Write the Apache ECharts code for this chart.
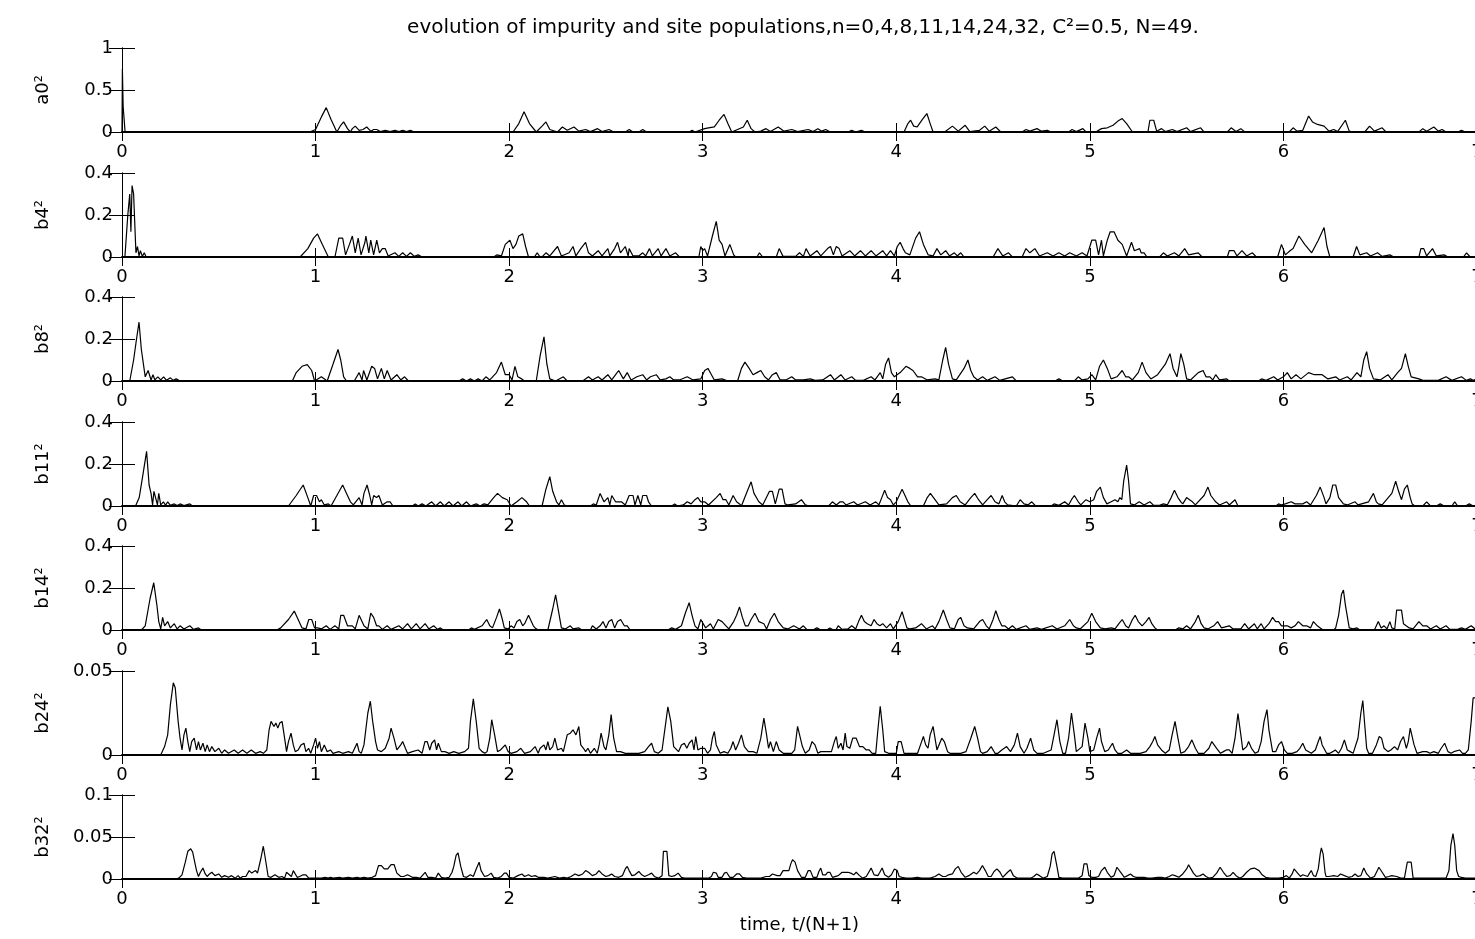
<!DOCTYPE html>
<html>
<head>
<meta charset="utf-8">
<script src="https://cdn.jsdelivr.net/npm/echarts@6/dist/echarts.min.js"></script>
<style>
html, body { margin: 0; padding: 0; background: #fff; }
#chart { width: 1475px; height: 939px; }
</style>
</head>
<body>
<div id="chart"></div>
<script>
// populations, [t/(N+1), value]
var a0 = [[0,0],[0.002,0.75],[0.006,0.3],[0.016,0],
[0.97,0],[1.0,0.03],[1.03,0.18],[1.055,0.29],[1.08,0.15],[1.11,0],
[1.13,0.08],[1.145,0.12],[1.165,0.04],[1.18,0],
[1.19,0.04],[1.205,0.07],[1.225,0.02],[1.245,0.03],[1.264,0.06],[1.285,0.01],[1.3,0.03],[1.316,0.03],[1.335,0.005],[1.36,0.02],[1.385,0.005],[1.41,0.02],[1.43,0.005],[1.45,0.02],[1.47,0.005],[1.49,0.02],[1.51,0],
[2.02,0],[2.05,0.1],[2.077,0.24],[2.105,0.1],[2.14,0],[2.17,0.07],[2.19,0.12],[2.21,0.03],[2.25,0],[2.275,0.06],[2.3,0.02],[2.335,0.06],[2.36,0.01],[2.395,0.03],[2.42,0.005],[2.457,0.04],[2.48,0.005],[2.516,0.03],[2.54,0],[2.6,0],[2.62,0.03],[2.64,0],[2.67,0],[2.69,0.03],[2.71,0],
[2.93,0],[2.945,0.02],[2.96,0],[3.01,0.04],[3.03,0.05],[3.06,0.06],[3.085,0.14],[3.11,0.21],[3.13,0.1],[3.15,0],[3.21,0.06],[3.23,0.14],[3.25,0.04],[3.27,0],[3.3,0.01],[3.327,0.04],[3.35,0.005],[3.39,0.06],[3.42,0.01],[3.46,0.03],[3.49,0.005],
[3.545,0.03],[3.57,0.005],[3.595,0.04],[3.615,0.01],[3.635,0.03],[3.66,0],[3.75,0],[3.77,0.02],[3.79,0],[3.8,0],[3.82,0.02],[3.84,0],
[4.04,0],[4.06,0.1],[4.074,0.14],[4.09,0.07],[4.108,0.06],[4.135,0.15],[4.158,0.22],[4.175,0.1],[4.19,0],
[4.25,0],[4.29,0.07],[4.32,0.01],[4.356,0.08],[4.38,0.005],[4.43,0.02],[4.457,0.07],[4.48,0.01],[4.514,0.06],[4.54,0],[4.65,0],[4.67,0.03],[4.69,0.01],[4.727,0.04],[4.75,0.01],[4.78,0.02],[4.8,0],[4.89,0],[4.908,0.03],[4.93,0.005],[4.964,0.04],[4.98,0],
[5.03,0],[5.06,0.04],[5.09,0.05],[5.12,0.08],[5.145,0.13],[5.167,0.16],[5.19,0.1],[5.22,0],[5.3,0],[5.31,0.14],[5.33,0.14],[5.345,0.01],[5.37,0.04],[5.39,0.005],[5.426,0.03],[5.45,0.005],[5.5,0.05],[5.52,0.005],[5.572,0.05],[5.59,0],[5.71,0],[5.73,0.05],[5.755,0.005],[5.78,0.04],[5.8,0],
[6.03,0],[6.05,0.05],[6.07,0.01],[6.1,0.02],[6.13,0.19],[6.15,0.12],[6.176,0.09],[6.21,0.07],[6.235,0.01],[6.26,0.03],[6.28,0.005],[6.32,0.14],[6.34,0.01],[6.36,0],[6.42,0],[6.445,0.07],[6.47,0.01],[6.51,0.05],[6.53,0],[6.7,0],[6.72,0.04],[6.74,0.01],[6.777,0.06],[6.8,0.01],[6.82,0.03],[6.84,0],[6.9,0],[6.92,0.02],[6.94,0],[7,0]];

var b4 = [[0,0],[0.015,0],[0.03,0.2],[0.04,0.3],[0.046,0.12],[0.052,0.34],[0.06,0.3],[0.072,0.02],[0.08,0.05],[0.088,0.005],[0.095,0.03],[0.105,0.003],[0.115,0.02],[0.125,0],
[0.92,0],[0.96,0.04],[0.99,0.09],[1.01,0.11],[1.035,0.06],[1.066,0],
[1.1,0],[1.12,0.09],[1.14,0.09],[1.155,0.01],[1.175,0.06],[1.19,0.1],[1.205,0.02],[1.22,0.09],[1.235,0.01],[1.255,0.07],[1.26,0.1],[1.275,0.02],[1.285,0.08],[1.3,0.01],[1.316,0.08],[1.33,0.02],[1.345,0.04],[1.36,0.04],[1.375,0.005],[1.41,0.02],[1.43,0.003],[1.45,0.02],[1.47,0.003],[1.49,0.02],[1.51,0.003],[1.53,0.01],[1.55,0],
[1.92,0],[1.936,0.01],[1.96,0.005],[1.98,0.06],[2.004,0.08],[2.02,0.04],[2.035,0.06],[2.05,0.1],[2.07,0.11],[2.085,0.05],[2.1,0],[2.13,0],[2.145,0.02],[2.16,0],[2.175,0.005],[2.19,0.02],[2.21,0.005],[2.25,0.05],[2.27,0.005],[2.31,0.02],[2.33,0.05],[2.345,0.005],[2.37,0.04],[2.395,0.07],[2.41,0.02],[2.43,0.005],[2.46,0.03],[2.48,0.005],[2.51,0.04],[2.52,0.005],[2.545,0.04],[2.56,0.07],[2.575,0.02],[2.6,0.05],[2.615,0.005],[2.62,0.04],[2.64,0.005],[2.67,0.005],[2.69,0.02],[2.705,0.005],[2.725,0.04],[2.74,0.005],[2.77,0.04],[2.785,0.005],[2.81,0.04],[2.83,0.005],[2.86,0.02],[2.88,0],
[2.98,0],[2.99,0.05],[3.0,0.03],[3.01,0.04],[3.025,0.005],[3.05,0.1],[3.07,0.17],[3.085,0.08],[3.1,0.06],[3.115,0.005],[3.14,0.06],[3.16,0.01],[3.17,0],[3.28,0],[3.293,0.02],[3.31,0],[3.38,0],[3.395,0.04],[3.415,0.003],[3.48,0.003],[3.5,0.02],[3.52,0.003],[3.534,0.04],[3.555,0.005],[3.59,0.03],[3.61,0.005],[3.645,0.04],[3.66,0.05],[3.675,0.01],[3.69,0.05],[3.705,0.04],[3.72,0.005],[3.76,0.03],[3.785,0.005],[3.815,0.03],[3.84,0.005],[3.87,0.03],[3.895,0.005],[3.93,0.03],[3.95,0.005],[3.97,0.03],[3.99,0.005],[4.005,0.05],[4.02,0.07],[4.035,0.04],[4.047,0.02],[4.07,0.01],[4.1,0.09],[4.12,0.12],[4.14,0.06],[4.165,0.01],[4.19,0.005],[4.21,0.04],[4.23,0.01],[4.255,0.03],[4.275,0.005],[4.3,0.02],[4.315,0.005],[4.333,0.02],[4.35,0],
[4.5,0],[4.525,0.04],[4.55,0.005],[4.58,0.02],[4.6,0],[4.65,0],[4.67,0.04],[4.69,0.02],[4.716,0.04],[4.74,0.005],[4.78,0.02],[4.81,0.005],[4.84,0.02],[4.87,0.005],[4.896,0.02],[4.93,0.005],[4.96,0.02],[4.985,0.005],[5.01,0.08],[5.03,0.08],[5.045,0.01],[5.06,0.08],[5.07,0.005],[5.09,0.08],[5.105,0.12],[5.125,0.12],[5.145,0.08],[5.167,0.06],[5.19,0.005],[5.215,0.07],[5.23,0.03],[5.257,0.04],[5.265,0.02],[5.28,0.02],[5.295,0],
[5.36,0],[5.38,0.02],[5.4,0.005],[5.437,0.02],[5.46,0.005],[5.49,0.04],[5.51,0.01],[5.56,0.02],[5.58,0],[5.71,0],[5.72,0.03],[5.745,0.03],[5.76,0.005],[5.786,0.03],[5.81,0.005],[5.84,0.02],[5.86,0],
[5.97,0],[5.99,0.06],[6.01,0.01],[6.034,0.03],[6.05,0.04],[6.08,0.1],[6.11,0.06],[6.146,0.02],[6.18,0.08],[6.2,0.12],[6.21,0.14],[6.225,0.05],[6.24,0],
[6.36,0],[6.378,0.05],[6.395,0.01],[6.43,0.02],[6.45,0.005],[6.486,0.02],[6.51,0.003],[6.55,0.01],[6.57,0],[6.7,0],[6.71,0.04],[6.725,0.04],[6.74,0.005],[6.77,0.04],[6.79,0.005],[6.83,0.01],[6.85,0],[6.93,0],[6.946,0.02],[6.965,0],[7,0]];

var b8 = [[0,0],[0.04,0],[0.06,0.1],[0.075,0.2],[0.088,0.28],[0.1,0.15],[0.12,0.02],[0.135,0.05],[0.15,0.005],[0.16,0.03],[0.17,0.005],[0.185,0.02],[0.2,0.005],[0.215,0.02],[0.23,0.003],[0.25,0.015],[0.265,0.003],[0.28,0.01],[0.3,0],
[0.88,0],[0.9,0.04],[0.93,0.07],[0.957,0.078],[0.98,0.05],[0.995,0],[1.03,0.02],[1.06,0],[1.09,0.08],[1.116,0.15],[1.13,0.1],[1.145,0.02],[1.16,0],[1.2,0],[1.225,0.04],[1.24,0.005],[1.248,0.05],[1.265,0.005],[1.29,0.07],[1.305,0.06],[1.32,0.01],[1.34,0.06],[1.355,0.01],[1.37,0.05],[1.39,0.005],[1.42,0.03],[1.44,0.005],[1.46,0.02],[1.48,0],
[1.74,0],[1.76,0.01],[1.78,0],[1.8,0.01],[1.82,0],[1.84,0.01],[1.86,0],[1.88,0.02],[1.9,0.005],[1.935,0.04],[1.96,0.09],[1.98,0.03],[2.0,0.03],[2.015,0.005],[2.03,0.07],[2.045,0.02],[2.065,0.01],[2.08,0],[2.14,0],[2.16,0.12],[2.18,0.21],[2.195,0.08],[2.21,0.01],[2.24,0],[2.28,0.02],[2.3,0],
[2.38,0],[2.41,0.02],[2.43,0.005],[2.46,0.02],[2.48,0.005],[2.51,0.03],[2.53,0.005],[2.55,0.03],[2.566,0.05],[2.59,0.01],[2.61,0.04],[2.63,0.005],[2.66,0.02],[2.69,0.03],[2.71,0.005],[2.73,0.02],[2.76,0.03],[2.78,0.005],[2.81,0.01],[2.83,0.02],[2.85,0.005],[2.88,0.005],[2.92,0.02],[2.95,0.005],[2.99,0.01],[3.01,0.05],[3.027,0.06],[3.045,0.03],[3.06,0.005],[3.1,0.01],[3.13,0],
[3.18,0],[3.2,0.06],[3.218,0.09],[3.24,0.06],[3.26,0.03],[3.28,0.04],[3.3,0.05],[3.32,0.02],[3.34,0.005],[3.36,0.03],[3.38,0.04],[3.4,0.005],[3.43,0.005],[3.46,0.02],[3.48,0.005],[3.52,0.005],[3.556,0.01],[3.58,0.003],[3.62,0.005],[3.66,0.03],[3.68,0.005],[3.714,0.03],[3.735,0.005],[3.77,0.02],[3.79,0.003],[3.83,0.003],[3.87,0.02],[3.89,0.005],[3.917,0.04],[3.93,0.01],[3.945,0.08],[3.96,0.11],[3.975,0.04],[3.99,0.02],[4.02,0.04],[4.05,0.07],[4.07,0.06],[4.086,0.05],[4.11,0.02],[4.13,0.02],[4.16,0.005],[4.2,0.01],[4.22,0.005],[4.24,0.1],[4.255,0.16],[4.27,0.08],[4.29,0.01],[4.31,0.005],[4.35,0.06],[4.37,0.1],[4.385,0.05],[4.4,0.02],[4.42,0.005],[4.446,0.02],[4.47,0.003],[4.51,0.02],[4.535,0.003],[4.6,0.02],[4.62,0],
[4.82,0],[4.84,0.01],[4.86,0],[4.92,0],[4.94,0.02],[4.96,0.005],[4.99,0.01],[5.01,0.03],[5.03,0.005],[5.05,0.07],[5.07,0.1],[5.09,0.06],[5.11,0.01],[5.14,0.02],[5.167,0.05],[5.185,0.02],[5.2,0.02],[5.22,0.005],[5.25,0.04],[5.27,0.09],[5.29,0.04],[5.315,0.01],[5.35,0.03],[5.39,0.08],[5.414,0.13],[5.43,0.06],[5.45,0.02],[5.46,0.07],[5.47,0.13],[5.485,0.08],[5.5,0.01],[5.52,0.005],[5.56,0.04],[5.585,0.05],[5.6,0.02],[5.62,0.02],[5.635,0.005],[5.65,0.03],[5.67,0.005],[5.707,0.01],[5.72,0],
[5.87,0],[5.887,0.01],[5.91,0.003],[5.95,0.02],[5.97,0.005],[6.0,0.02],[6.02,0.04],[6.04,0.01],[6.065,0.03],[6.09,0.01],[6.13,0.04],[6.16,0.03],[6.2,0.03],[6.23,0.01],[6.27,0.02],[6.29,0.005],[6.33,0.02],[6.35,0.005],[6.38,0.04],[6.4,0.02],[6.415,0.1],[6.43,0.14],[6.445,0.06],[6.465,0.01],[6.5,0.005],[6.54,0.03],[6.56,0.005],[6.59,0.04],[6.61,0.06],[6.63,0.13],[6.645,0.07],[6.66,0.02],[6.7,0.01],[6.72,0.003],[6.8,0.003],[6.84,0.02],[6.87,0.003],[6.92,0.02],[6.945,0.003],[6.966,0.01],[6.98,0.003],[7,0.01]];

var b11 = [[0,0],[0.07,0],[0.089,0.04],[0.11,0.16],[0.127,0.26],[0.14,0.1],[0.15,0.06],[0.158,0.005],[0.165,0.07],[0.175,0.07],[0.183,0.005],[0.19,0.06],[0.2,0.005],[0.214,0.02],[0.225,0.003],[0.236,0.02],[0.25,0.003],[0.27,0.01],[0.285,0.002],[0.3,0.01],[0.32,0.002],[0.35,0.01],[0.365,0],
[0.86,0],[0.9,0.05],[0.936,0.1],[0.96,0.04],[0.975,0],[0.99,0.05],[1.005,0.05],[1.02,0.02],[1.03,0.03],[1.045,0.005],[1.066,0.01],[1.08,0],[1.11,0.05],[1.14,0.1],[1.16,0.06],[1.18,0.02],[1.195,0.005],[1.225,0.04],[1.24,0.005],[1.25,0.06],[1.266,0.1],[1.28,0.05],[1.29,0.005],[1.3,0.05],[1.315,0.04],[1.327,0.05],[1.345,0.005],[1.37,0.02],[1.385,0.02],[1.4,0],
[1.5,0],[1.515,0.01],[1.53,0],[1.55,0.01],[1.57,0],[1.6,0.02],[1.62,0],[1.645,0.02],[1.665,0],[1.69,0.02],[1.71,0],[1.736,0.02],[1.755,0],[1.78,0.02],[1.8,0],[1.83,0.01],[1.85,0],[1.87,0.01],[1.89,0.005],[1.92,0.04],[1.94,0.06],[1.965,0.04],[1.99,0.03],[2.01,0],[2.04,0.02],[2.066,0.04],[2.09,0.02],[2.105,0],
[2.17,0],[2.19,0.08],[2.21,0.14],[2.225,0.07],[2.245,0.02],[2.257,0.005],[2.27,0.03],[2.285,0.005],[2.3,0],
[2.42,0],[2.435,0.01],[2.45,0.005],[2.47,0.06],[2.49,0.02],[2.51,0.04],[2.52,0.005],[2.53,0.05],[2.55,0.02],[2.58,0.02],[2.6,0.005],[2.62,0.05],[2.64,0.05],[2.65,0.005],[2.665,0.05],[2.68,0.005],[2.69,0.05],[2.71,0.05],[2.72,0.02],[2.735,0],
[2.84,0],[2.855,0.01],[2.87,0],[2.9,0.005],[2.92,0.02],[2.94,0.01],[2.96,0.03],[2.975,0.04],[2.99,0.02],[3.01,0.02],[3.03,0.005],[3.07,0.04],[3.09,0.06],[3.105,0.03],[3.12,0.03],[3.135,0.005],[3.157,0.05],[3.175,0.02],[3.19,0.01],[3.2,0],[3.23,0.07],[3.25,0.115],[3.265,0.06],[3.29,0.02],[3.31,0.005],[3.345,0.07],[3.36,0.07],[3.375,0.01],[3.395,0.08],[3.41,0.08],[3.425,0.01],[3.44,0.005],[3.48,0.01],[3.51,0.03],[3.53,0.005],[3.55,0],
[3.65,0],[3.67,0.02],[3.69,0.005],[3.71,0.02],[3.725,0.02],[3.74,0.005],[3.78,0.02],[3.8,0.005],[3.84,0.02],[3.865,0.005],[3.894,0.02],[3.91,0.005],[3.925,0.04],[3.94,0.075],[3.955,0.04],[3.97,0.03],[3.985,0.005],[4.0,0.02],[4.015,0.05],[4.03,0.08],[4.045,0.05],[4.06,0.02],[4.075,0],
[4.14,0],[4.16,0.04],[4.176,0.06],[4.2,0.03],[4.22,0.005],[4.26,0.01],[4.29,0.04],[4.31,0.05],[4.33,0.02],[4.356,0.005],[4.385,0.04],[4.405,0.06],[4.425,0.03],[4.446,0.005],[4.47,0.03],[4.49,0.05],[4.51,0.02],[4.53,0.01],[4.547,0.05],[4.56,0.02],[4.575,0.005],[4.62,0],[4.64,0.03],[4.66,0.01],[4.68,0.005],[4.7,0.02],[4.72,0],
[4.8,0],[4.815,0.01],[4.84,0.003],[4.87,0.02],[4.89,0.005],[4.905,0.03],[4.92,0.05],[4.94,0.02],[4.953,0.005],[4.98,0.03],[5.0,0.02],[5.02,0.03],[5.035,0.07],[5.054,0.09],[5.07,0.04],[5.088,0.01],[5.11,0.02],[5.13,0.03],[5.145,0.02],[5.155,0.04],[5.165,0.03],[5.175,0.12],[5.19,0.195],[5.2,0.12],[5.21,0.01],[5.23,0.005],[5.255,0.02],[5.28,0.005],[5.31,0.02],[5.33,0.003],[5.36,0.003],[5.38,0.01],[5.4,0.005],[5.42,0.04],[5.437,0.075],[5.455,0.04],[5.47,0.02],[5.48,0.01],[5.5,0.04],[5.515,0.03],[5.53,0.02],[5.545,0.005],[5.59,0.05],[5.61,0.09],[5.625,0.05],[5.65,0.02],[5.67,0.005],[5.707,0.02],[5.72,0.005],[5.75,0.03],[5.765,0],
[5.96,0],[5.975,0.01],[5.99,0.005],[6.01,0.01],[6.04,0.02],[6.06,0.01],[6.1,0.01],[6.12,0.02],[6.14,0.005],[6.17,0.05],[6.19,0.09],[6.21,0.04],[6.22,0.01],[6.24,0.04],[6.255,0.1],[6.27,0.1],[6.285,0.04],[6.31,0.01],[6.33,0.005],[6.37,0.02],[6.385,0.005],[6.44,0.02],[6.465,0.06],[6.48,0.02],[6.49,0.01],[6.51,0.005],[6.56,0.06],[6.58,0.118],[6.595,0.07],[6.61,0.03],[6.625,0.08],[6.64,0.1],[6.655,0.04],[6.665,0.01],[6.68,0],[6.72,0],[6.74,0.02],[6.76,0],[6.79,0],[6.81,0.01],[6.83,0],[6.87,0],[6.885,0.02],[6.9,0],[6.94,0],[6.96,0.01],[6.98,0],[7,0]];

var b14 = [[0,0],[0.1,0],[0.12,0.02],[0.145,0.15],[0.164,0.225],[0.18,0.12],[0.19,0.04],[0.2,0.005],[0.21,0.06],[0.22,0.02],[0.236,0.04],[0.25,0.01],[0.27,0.03],[0.285,0.005],[0.3,0.02],[0.32,0.005],[0.35,0.02],[0.37,0.003],[0.395,0.01],[0.41,0],
[0.8,0],[0.82,0.01],[0.86,0.05],[0.89,0.09],[0.91,0.05],[0.93,0.01],[0.95,0.005],[0.965,0.05],[0.98,0.05],[0.995,0.01],[1.01,0.01],[1.03,0.005],[1.055,0.02],[1.075,0.003],[1.1,0.02],[1.12,0.005],[1.13,0.07],[1.145,0.07],[1.165,0.02],[1.19,0.02],[1.205,0.005],[1.225,0.07],[1.24,0.04],[1.25,0.02],[1.27,0.005],[1.285,0.08],[1.3,0.06],[1.315,0.02],[1.327,0.02],[1.345,0.003],[1.37,0.02],[1.39,0.003],[1.43,0.02],[1.45,0.005],[1.475,0.03],[1.495,0.005],[1.52,0.03],[1.54,0.005],[1.566,0.03],[1.585,0.005],[1.61,0.02],[1.63,0.003],[1.645,0.01],[1.66,0],
[1.79,0],[1.805,0.01],[1.82,0.003],[1.86,0.02],[1.884,0.05],[1.9,0.02],[1.914,0.01],[1.935,0.06],[1.95,0.1],[1.965,0.05],[1.975,0.01],[1.995,0.005],[2.01,0.02],[2.025,0.01],[2.04,0.04],[2.055,0.05],[2.07,0.02],[2.08,0.03],[2.1,0.07],[2.11,0.07],[2.125,0.02],[2.134,0.01],[2.15,0],[2.2,0],[2.225,0.1],[2.24,0.167],[2.255,0.09],[2.27,0.01],[2.29,0.005],[2.316,0.02],[2.33,0.005],[2.36,0.01],[2.375,0],
[2.42,0],[2.43,0.02],[2.45,0.005],[2.47,0.02],[2.485,0.04],[2.5,0.01],[2.515,0.04],[2.53,0.05],[2.545,0.01],[2.56,0.04],[2.576,0.05],[2.595,0.02],[2.61,0.02],[2.625,0],
[2.82,0],[2.84,0.01],[2.86,0.003],[2.89,0.02],[2.91,0.08],[2.93,0.13],[2.945,0.07],[2.96,0.02],[2.975,0.005],[2.99,0.05],[3.0,0.05],[3.015,0.01],[3.04,0.03],[3.055,0.005],[3.08,0.05],[3.1,0.04],[3.12,0.02],[3.135,0.005],[3.16,0.04],[3.175,0.07],[3.19,0.11],[3.205,0.06],[3.22,0.02],[3.235,0.02],[3.25,0.05],[3.27,0.08],[3.29,0.04],[3.316,0.03],[3.33,0.005],[3.35,0.05],[3.37,0.08],[3.39,0.04],[3.416,0.01],[3.44,0.005],[3.47,0.02],[3.5,0.005],[3.52,0.02],[3.54,0],
[3.57,0],[3.59,0.01],[3.61,0],[3.64,0],[3.657,0.01],[3.675,0],[3.69,0.003],[3.7,0.02],[3.72,0.003],[3.75,0.005],[3.77,0.02],[3.79,0.005],[3.805,0.04],[3.82,0.07],[3.835,0.04],[3.85,0.03],[3.87,0.02],[3.885,0.05],[3.9,0.03],[3.915,0.02],[3.93,0.03],[3.95,0.01],[3.97,0.03],[3.985,0.005],[4.01,0.04],[4.03,0.087],[4.045,0.04],[4.055,0.01],[4.07,0.005],[4.1,0.01],[4.13,0.03],[4.155,0.005],[4.187,0.02],[4.2,0.005],[4.22,0.04],[4.243,0.095],[4.26,0.05],[4.277,0.01],[4.3,0.005],[4.32,0.05],[4.333,0.06],[4.35,0.02],[4.367,0.01],[4.4,0.005],[4.43,0.04],[4.446,0.05],[4.465,0.02],[4.48,0.005],[4.5,0.05],[4.514,0.092],[4.53,0.05],[4.545,0.02],[4.56,0.02],[4.58,0.005],[4.6,0.02],[4.62,0.003],[4.67,0.02],[4.69,0.003],[4.727,0.01],[4.75,0.003],[4.806,0.02],[4.83,0.005],[4.87,0.02],[4.896,0.05],[4.915,0.02],[4.93,0.01],[4.95,0.005],[4.99,0.04],[5.01,0.08],[5.03,0.04],[5.054,0.01],[5.08,0.005],[5.11,0.01],[5.13,0.005],[5.15,0.03],[5.167,0.05],[5.185,0.02],[5.2,0.01],[5.22,0.05],[5.234,0.07],[5.25,0.04],[5.27,0.02],[5.29,0.04],[5.306,0.06],[5.32,0.03],[5.336,0.01],[5.35,0],
[5.44,0],[5.46,0.01],[5.48,0.005],[5.5,0.02],[5.52,0.005],[5.545,0.04],[5.56,0.07],[5.575,0.03],[5.59,0.01],[5.61,0.005],[5.64,0.02],[5.66,0.04],[5.68,0.01],[5.72,0.02],[5.74,0.005],[5.78,0.005],[5.8,0.03],[5.82,0.005],[5.85,0.03],[5.865,0.005],[5.885,0.03],[5.9,0.005],[5.925,0.03],[5.944,0.06],[5.96,0.04],[5.975,0.04],[5.99,0.02],[6.02,0.02],[6.04,0.01],[6.06,0.02],[6.077,0.04],[6.1,0.02],[6.12,0.02],[6.14,0.01],[6.155,0.04],[6.175,0.02],[6.19,0.01],[6.205,0],
[6.26,0],[6.27,0.01],[6.285,0.07],[6.3,0.17],[6.31,0.19],[6.32,0.12],[6.34,0.01],[6.36,0.005],[6.38,0.01],[6.395,0],[6.47,0],[6.49,0.04],[6.505,0.01],[6.52,0.02],[6.535,0.005],[6.55,0.04],[6.56,0.01],[6.575,0.005],[6.585,0.095],[6.61,0.095],[6.62,0.03],[6.65,0.01],[6.67,0.005],[6.7,0.04],[6.72,0.02],[6.74,0.02],[6.76,0.005],[6.79,0.02],[6.81,0.005],[6.84,0.02],[6.86,0.003],[6.9,0.003],[6.92,0.01],[6.94,0.003],[6.97,0.02],[6.99,0.005],[7,0]];

var b24 = [[0,0],[0.2,0],[0.22,0.005],[0.236,0.012],[0.25,0.03],[0.265,0.043],[0.275,0.04],[0.29,0.02],[0.3,0.01],[0.31,0.003],[0.32,0.012],[0.33,0.016],[0.34,0.008],[0.35,0.002],[0.36,0.008],[0.373,0.01],[0.385,0.003],[0.395,0.008],[0.405,0.003],[0.418,0.007],[0.43,0.002],[0.44,0.006],[0.452,0.002],[0.464,0.005],[0.48,0.002],[0.5,0.004],[0.515,0.001],[0.53,0.003],[0.55,0.001],[0.58,0.003],[0.6,0.001],[0.623,0.003],[0.645,0.001],[0.668,0.003],[0.69,0.001],[0.714,0.002],[0.73,0.001],[0.748,0.003],[0.76,0.015],[0.77,0.02],[0.785,0.017],[0.795,0.019],[0.805,0.016],[0.815,0.019],[0.827,0.02],[0.84,0.01],[0.85,0.002],[0.86,0.008],[0.873,0.013],[0.885,0.006],[0.895,0.002],[0.91,0.003],[0.925,0.006],[0.94,0.007],[0.95,0.002],[0.964,0.004],[0.975,0.001],[0.99,0.006],[1.0,0.01],[1.01,0.004],[1.02,0.008],[1.03,0.002],[1.045,0.006],[1.06,0.002],[1.077,0.003],[1.09,0.001],[1.12,0.002],[1.14,0.001],[1.17,0.002],[1.19,0.001],[1.214,0.007],[1.225,0.002],[1.236,0.001],[1.25,0.006],[1.27,0.025],[1.283,0.032],[1.295,0.02],[1.31,0.008],[1.32,0.003],[1.34,0.002],[1.36,0.004],[1.38,0.01],[1.39,0.016],[1.405,0.01],[1.42,0.003],[1.43,0.002],[1.44,0.006],[1.45,0.008],[1.464,0.004],[1.475,0.001],[1.5,0.002],[1.53,0.003],[1.55,0.001],[1.565,0.008],[1.577,0.008],[1.59,0.003],[1.6,0.007],[1.615,0.009],[1.625,0.003],[1.634,0.007],[1.65,0.002],[1.668,0.002],[1.69,0.001],[1.714,0.002],[1.74,0.001],[1.77,0.002],[1.79,0.004],[1.8,0.02],[1.815,0.0334],[1.83,0.02],[1.845,0.004],[1.86,0.002],[1.875,0.001],[1.886,0.002],[1.9,0.01],[1.91,0.021],[1.925,0.012],[1.94,0.002],[1.955,0.003],[1.964,0.002],[1.98,0.006],[1.995,0.002],[2.01,0.001],[2.04,0.002],[2.06,0.004],[2.08,0.001],[2.11,0.002],[2.134,0.005],[2.15,0.001],[2.16,0.004],[2.18,0.006],[2.19,0.003],[2.2,0.008],[2.21,0.003],[2.225,0.005],[2.236,0.01],[2.25,0.003],[2.27,0.004],[2.28,0.002],[2.3,0.012],[2.316,0.013],[2.33,0.015],[2.345,0.012],[2.36,0.017],[2.37,0.006],[2.384,0.004],[2.395,0.002],[2.407,0.004],[2.42,0.001],[2.44,0.004],[2.455,0.001],[2.465,0.006],[2.475,0.013],[2.49,0.005],[2.5,0.003],[2.515,0.012],[2.527,0.024],[2.54,0.01],[2.555,0.002],[2.575,0.002],[2.6,0.001],[2.62,0.001],[2.65,0.001],[2.67,0.001],[2.7,0.002],[2.72,0.005],[2.736,0.007],[2.75,0.002],[2.77,0.001],[2.79,0.003],[2.81,0.02],[2.82,0.0286],[2.835,0.02],[2.85,0.005],[2.86,0.004],[2.875,0.002],[2.89,0.006],[2.905,0.007],[2.918,0.004],[2.93,0.007],[2.945,0.009],[2.955,0.003],[2.964,0.011],[2.975,0.003],[2.99,0.004],[3.01,0.004],[3.025,0.001],[3.04,0.003],[3.05,0.01],[3.06,0.014],[3.07,0.006],[3.09,0.001],[3.11,0.002],[3.13,0.001],[3.145,0.004],[3.157,0.008],[3.17,0.003],[3.185,0.007],[3.2,0.012],[3.215,0.005],[3.236,0.002],[3.26,0.002],[3.28,0.001],[3.3,0.01],[3.316,0.022],[3.33,0.012],[3.34,0.004],[3.35,0.008],[3.365,0.002],[3.38,0.008],[3.395,0.003],[3.416,0.001],[3.44,0.001],[3.46,0.001],[3.475,0.003],[3.49,0.017],[3.5,0.017],[3.515,0.005],[3.53,0.001],[3.55,0.003],[3.565,0.008],[3.58,0.006],[3.595,0.001],[3.61,0.002],[3.63,0.002],[3.646,0.002],[3.665,0.002],[3.68,0.008],[3.69,0.011],[3.7,0.004],[3.714,0.007],[3.725,0.003],[3.736,0.013],[3.745,0.005],[3.76,0.004],[3.775,0.01],[3.793,0.01],[3.81,0.005],[3.827,0.005],[3.845,0.003],[3.86,0.003],[3.875,0.001],[3.894,0.001],[3.905,0.015],[3.917,0.029],[3.93,0.015],[3.94,0.002],[3.96,0.001],[3.985,0.001],[4.0,0.001],[4.01,0.008],[4.025,0.008],[4.04,0.001],[4.07,0.001],[4.11,0.001],[4.125,0.006],[4.14,0.011],[4.152,0.006],[4.164,0.004],[4.175,0.012],[4.19,0.017],[4.2,0.01],[4.21,0.003],[4.22,0.004],[4.235,0.01],[4.248,0.008],[4.265,0.002],[4.277,0.001],[4.3,0.001],[4.333,0.001],[4.36,0.002],[4.385,0.01],[4.405,0.017],[4.42,0.01],[4.435,0.002],[4.446,0.001],[4.47,0.002],[4.49,0.005],[4.51,0.001],[4.525,0.001],[4.545,0.003],[4.57,0.005],[4.59,0.002],[4.61,0.006],[4.626,0.013],[4.64,0.005],[4.66,0.001],[4.675,0.004],[4.694,0.01],[4.71,0.003],[4.727,0.001],[4.76,0.001],[4.8,0.003],[4.815,0.012],[4.83,0.021],[4.845,0.008],[4.86,0.001],[4.874,0.001],[4.89,0.01],[4.905,0.025],[4.92,0.012],[4.93,0.002],[4.94,0.001],[4.96,0.005],[4.975,0.019],[4.99,0.01],[5.0,0.002],[5.02,0.003],[5.035,0.01],[5.05,0.016],[5.06,0.008],[5.077,0.002],[5.095,0.003],[5.117,0.007],[5.13,0.003],[5.144,0.001],[5.165,0.001],[5.19,0.003],[5.21,0.001],[5.234,0.001],[5.26,0.001],[5.29,0.002],[5.31,0.005],[5.325,0.008],[5.336,0.011],[5.35,0.006],[5.37,0.003],[5.39,0.001],[5.41,0.003],[5.425,0.012],[5.44,0.02],[5.455,0.01],[5.47,0.001],[5.49,0.002],[5.51,0.005],[5.527,0.009],[5.545,0.004],[5.56,0.001],[5.59,0.001],[5.615,0.004],[5.63,0.008],[5.64,0.009],[5.655,0.004],[5.675,0.001],[5.69,0.002],[5.705,0.003],[5.72,0.003],[5.735,0.001],[5.75,0.01],[5.765,0.0246],[5.78,0.012],[5.79,0.003],[5.8,0.002],[5.81,0.005],[5.82,0.008],[5.835,0.004],[5.854,0.001],[5.87,0.002],[5.885,0.008],[5.9,0.02],[5.915,0.027],[5.925,0.015],[5.944,0.002],[5.96,0.002],[5.975,0.006],[5.99,0.008],[6.005,0.003],[6.02,0.001],[6.045,0.001],[6.07,0.002],[6.085,0.004],[6.1,0.007],[6.115,0.003],[6.144,0.001],[6.165,0.003],[6.18,0.008],[6.19,0.011],[6.2,0.006],[6.223,0.001],[6.24,0.001],[6.255,0.002],[6.268,0.003],[6.285,0.001],[6.3,0.004],[6.315,0.009],[6.33,0.003],[6.345,0.002],[6.36,0.001],[6.385,0.01],[6.4,0.025],[6.41,0.0324],[6.42,0.018],[6.43,0.004],[6.44,0.001],[6.46,0.001],[6.48,0.006],[6.495,0.011],[6.507,0.01],[6.52,0.004],[6.54,0.002],[6.555,0.003],[6.574,0.005],[6.59,0.003],[6.605,0.008],[6.62,0.011],[6.635,0.004],[6.645,0.008],[6.655,0.016],[6.664,0.017],[6.675,0.006],[6.69,0.001],[6.7,0.001],[6.72,0.002],[6.74,0.002],[6.757,0.001],[6.777,0.002],[6.8,0.001],[6.815,0.004],[6.833,0.007],[6.85,0.002],[6.866,0.001],[6.88,0.002],[6.91,0.003],[6.925,0.001],[6.94,0.001],[6.955,0.003],[6.97,0.02],[6.98,0.034],[7,0.034]];

var b32 = [[0,0],[0.28,0],[0.293,0.001],[0.31,0.005],[0.327,0.02],[0.34,0.033],[0.355,0.036],[0.365,0.032],[0.373,0.03],[0.385,0.01],[0.395,0.003],[0.405,0.008],[0.418,0.013],[0.43,0.006],[0.44,0.003],[0.452,0.006],[0.464,0.008],[0.48,0.004],[0.5,0.006],[0.515,0.002],[0.53,0.004],[0.55,0.002],[0.566,0.004],[0.585,0.001],[0.6,0.004],[0.61,0.001],[0.623,0.003],[0.64,0.003],[0.657,0.01],[0.67,0.007],[0.69,0.01],[0.7,0.007],[0.707,0.005],[0.718,0.025],[0.73,0.039],[0.74,0.025],[0.755,0.003],[0.77,0.002],[0.79,0.005],[0.81,0.002],[0.827,0.003],[0.84,0.001],[0.85,0.008],[0.86,0.01],[0.875,0.003],[0.885,0.01],[0.895,0.01],[0.905,0.002],[0.918,0.003],[0.935,0.005],[0.95,0.005],[0.965,0.001],[0.987,0.001],[1.03,0.001],[1.05,0.002],[1.065,0.001],[1.077,0.002],[1.09,0.001],[1.1,0.002],[1.123,0.002],[1.14,0.001],[1.17,0.002],[1.19,0.001],[1.214,0.002],[1.23,0.001],[1.25,0.002],[1.27,0.001],[1.293,0.002],[1.31,0.004],[1.325,0.016],[1.34,0.016],[1.355,0.012],[1.373,0.012],[1.39,0.017],[1.406,0.017],[1.42,0.007],[1.44,0.003],[1.455,0.003],[1.475,0.005],[1.5,0.002],[1.52,0.002],[1.54,0.001],[1.566,0.008],[1.58,0.002],[1.6,0.002],[1.62,0.001],[1.634,0.007],[1.65,0.002],[1.668,0.001],[1.69,0.002],[1.705,0.008],[1.714,0.015],[1.726,0.028],[1.736,0.031],[1.75,0.015],[1.764,0.003],[1.78,0.002],[1.8,0.005],[1.815,0.003],[1.83,0.012],[1.845,0.02],[1.855,0.01],[1.873,0.003],[1.89,0.004],[1.907,0.007],[1.92,0.002],[1.94,0.001],[1.96,0.003],[1.975,0.007],[1.986,0.007],[2.0,0.002],[2.02,0.001],[2.045,0.004],[2.066,0.006],[2.08,0.003],[2.1,0.005],[2.115,0.003],[2.134,0.004],[2.15,0.002],[2.18,0.002],[2.2,0.001],[2.236,0.003],[2.26,0.001],[2.282,0.002],[2.3,0.001],[2.32,0.003],[2.34,0.006],[2.36,0.004],[2.38,0.006],[2.395,0.01],[2.41,0.008],[2.43,0.004],[2.45,0.006],[2.464,0.01],[2.48,0.006],[2.5,0.003],[2.515,0.004],[2.53,0.006],[2.545,0.003],[2.566,0.002],[2.585,0.004],[2.6,0.012],[2.61,0.015],[2.62,0.01],[2.634,0.004],[2.65,0.005],[2.67,0.009],[2.685,0.005],[2.7,0.003],[2.72,0.005],[2.736,0.007],[2.75,0.003],[2.77,0.001],[2.79,0.004],[2.797,0.033],[2.815,0.033],[2.825,0.004],[2.84,0.003],[2.855,0.004],[2.873,0.007],[2.89,0.002],[2.907,0.001],[2.95,0.001],[2.99,0.001],[3.03,0.001],[3.045,0.003],[3.055,0.008],[3.07,0.007],[3.08,0.002],[3.1,0.002],[3.112,0.007],[3.123,0.008],[3.14,0.002],[3.157,0.002],[3.175,0.006],[3.19,0.006],[3.205,0.002],[3.225,0.001],[3.26,0.001],[3.3,0.001],[3.327,0.003],[3.345,0.003],[3.36,0.006],[3.37,0.007],[3.385,0.004],[3.4,0.004],[3.415,0.01],[3.43,0.01],[3.445,0.01],[3.455,0.018],[3.464,0.023],[3.477,0.02],[3.49,0.01],[3.51,0.002],[3.53,0.002],[3.545,0.01],[3.556,0.01],[3.57,0.002],[3.59,0.002],[3.6,0.009],[3.61,0.013],[3.62,0.005],[3.635,0.005],[3.645,0.008],[3.657,0.008],[3.67,0.002],[3.68,0.001],[3.7,0.004],[3.72,0.008],[3.736,0.008],[3.75,0.008],[3.765,0.007],[3.78,0.005],[3.793,0.008],[3.81,0.004],[3.827,0.001],[3.845,0.003],[3.86,0.009],[3.87,0.013],[3.885,0.005],[3.905,0.004],[3.915,0.008],[3.927,0.013],[3.94,0.005],[3.96,0.002],[3.975,0.005],[3.99,0.012],[4.005,0.01],[4.015,0.003],[4.03,0.002],[4.05,0.001],[4.08,0.001],[4.11,0.002],[4.13,0.001],[4.153,0.001],[4.175,0.001],[4.2,0.003],[4.22,0.006],[4.24,0.003],[4.255,0.003],[4.27,0.005],[4.29,0.006],[4.305,0.012],[4.32,0.015],[4.335,0.008],[4.356,0.002],[4.375,0.004],[4.4,0.008],[4.415,0.006],[4.43,0.01],[4.445,0.016],[4.46,0.01],[4.475,0.003],[4.49,0.003],[4.505,0.009],[4.52,0.012],[4.536,0.008],[4.55,0.002],[4.56,0.002],[4.575,0.008],[4.59,0.011],[4.605,0.004],[4.626,0.001],[4.65,0.001],[4.675,0.001],[4.694,0.001],[4.71,0.003],[4.725,0.006],[4.74,0.004],[4.76,0.001],[4.78,0.003],[4.795,0.015],[4.805,0.03],[4.815,0.033],[4.83,0.015],[4.84,0.002],[4.86,0.001],[4.896,0.001],[4.92,0.001],[4.94,0.001],[4.96,0.004],[4.97,0.018],[4.985,0.018],[4.995,0.004],[5.01,0.002],[5.03,0.002],[5.045,0.003],[5.06,0.01],[5.077,0.014],[5.09,0.008],[5.11,0.002],[5.125,0.004],[5.14,0.014],[5.15,0.014],[5.165,0.006],[5.178,0.002],[5.195,0.004],[5.21,0.006],[5.225,0.003],[5.24,0.002],[5.257,0.002],[5.28,0.002],[5.3,0.001],[5.32,0.001],[5.35,0.002],[5.37,0.002],[5.39,0.001],[5.41,0.003],[5.426,0.005],[5.44,0.004],[5.46,0.002],[5.48,0.006],[5.5,0.012],[5.51,0.017],[5.52,0.013],[5.535,0.007],[5.55,0.003],[5.57,0.004],[5.585,0.006],[5.6,0.003],[5.617,0.001],[5.635,0.002],[5.655,0.007],[5.673,0.014],[5.69,0.008],[5.707,0.003],[5.725,0.004],[5.74,0.008],[5.755,0.004],[5.775,0.001],[5.79,0.003],[5.81,0.008],[5.83,0.012],[5.85,0.013],[5.874,0.01],[5.89,0.005],[5.908,0.002],[5.93,0.001],[5.953,0.001],[5.975,0.001],[6.0,0.002],[6.015,0.004],[6.03,0.001],[6.045,0.006],[6.055,0.012],[6.07,0.008],[6.088,0.003],[6.1,0.005],[6.11,0.005],[6.125,0.003],[6.135,0.007],[6.144,0.01],[6.155,0.004],[6.167,0.003],[6.18,0.012],[6.19,0.03],[6.196,0.037],[6.205,0.03],[6.215,0.008],[6.22,0.003],[6.235,0.003],[6.245,0.004],[6.26,0.004],[6.28,0.003],[6.295,0.006],[6.302,0.007],[6.315,0.004],[6.336,0.002],[6.355,0.003],[6.37,0.006],[6.385,0.003],[6.4,0.004],[6.415,0.013],[6.43,0.006],[6.45,0.001],[6.47,0.003],[6.485,0.01],[6.493,0.014],[6.51,0.008],[6.527,0.002],[6.545,0.003],[6.56,0.004],[6.57,0.005],[6.585,0.003],[6.606,0.001],[6.625,0.001],[6.64,0.02],[6.66,0.02],[6.67,0.001],[6.7,0.001],[6.75,0.001],[6.8,0.001],[6.84,0.001],[6.855,0.01],[6.865,0.04],[6.876,0.054],[6.885,0.04],[6.895,0.01],[6.905,0.003],[6.92,0.002],[6.94,0.001],[6.97,0.001],[7,0.001]];

var seriesData = [a0, b4, b8, b11, b14, b24, b32];
var panelNames = ['a0\u00b2', 'b4\u00b2', 'b8\u00b2', 'b11\u00b2', 'b14\u00b2', 'b24\u00b2', 'b32\u00b2'];
var yMax = [1, 0.4, 0.4, 0.4, 0.4, 0.05, 0.1];
var yStep = [0.5, 0.2, 0.2, 0.2, 0.2, 0.05, 0.05];
var xTicks = [0, 1, 2, 3, 4, 5, 6, 7];

var chartDom = document.getElementById('chart');
var chart = echarts.init(chartDom, null, { renderer: 'canvas' });

var font = 'DejaVu Sans';
var grids = [], xAxes = [], yAxes = [], series = [];

for (var i = 0; i < seriesData.length; i++) {
    // the plot runs a little past the right edge of the picture, as in the original
    grids.push({
        left: 122, width: 1355, top: Math.round(48 + i * 124.5), height: 84,
        outerBoundsMode: 'none', containLabel: false
    });

    var xBase = {
        type: 'value', gridIndex: i, min: xTicks[0], max: xTicks[xTicks.length - 1], interval: 1,
        axisTick: { show: true, inside: true, length: 9, lineStyle: { color: '#000' } },
        splitLine: { show: false }
    };
    // bottom axis is drawn a bit heavier: the zero line of the data sits on it
    var xb = Object.assign({}, xBase, {
        position: 'bottom',
        axisLine: { show: true, lineStyle: { color: '#000', width: 2 } },
        axisLabel: { show: true, color: '#000', fontFamily: font, fontSize: 18, margin: 11 }
    });
    if (i === seriesData.length - 1) {
        xb.name = 'time, t/(N+1)';
        xb.nameLocation = 'middle';
        xb.nameGap = 37;
        xb.nameTextStyle = { color: '#000', fontFamily: font, fontSize: 18 };
    }
    xAxes.push(xb);
    xAxes.push(Object.assign({}, xBase, {
        position: 'top',
        axisLine: { show: true, lineStyle: { color: '#000', width: 1 } },
        axisLabel: { show: false }
    }));

    var yBase = {
        type: 'value', gridIndex: i, min: 0, max: yMax[i], interval: yStep[i],
        axisLine: { show: true, lineStyle: { color: '#000', width: 1 } },
        axisTick: { show: true, inside: true, length: 13, lineStyle: { color: '#000' } },
        splitLine: { show: false }
    };
    yAxes.push(Object.assign({}, yBase, {
        position: 'left',
        name: panelNames[i],
        nameLocation: 'middle',
        nameGap: 70,
        nameTextStyle: { color: '#000', fontFamily: font, fontSize: 18 },
        axisLabel: { show: true, color: '#000', fontFamily: font, fontSize: 18, margin: 9 }
    }));
    yAxes.push(Object.assign({}, yBase, { position: 'right', axisLabel: { show: false } }));

    series.push({
        type: 'line',
        xAxisIndex: 2 * i,
        yAxisIndex: 2 * i,
        data: seriesData[i],
        showSymbol: false,
        symbol: 'none',
        lineStyle: { color: '#000', width: 1.2 },
        silent: true
    });
}

var option = {
    backgroundColor: '#fff',
    animation: false,
    title: {
        text: 'evolution of impurity and site populations,n=0,4,8,11,14,24,32, C\u00b2=0.5, N=49.',
        left: 798,
        top: 13,
        textAlign: 'center',
        textStyle: { color: '#000', fontFamily: font, fontSize: 20, fontWeight: 'normal' }
    },
    grid: grids,
    xAxis: xAxes,
    yAxis: yAxes,
    series: series
};

chart.setOption(option);
</script>
</body>
</html>
